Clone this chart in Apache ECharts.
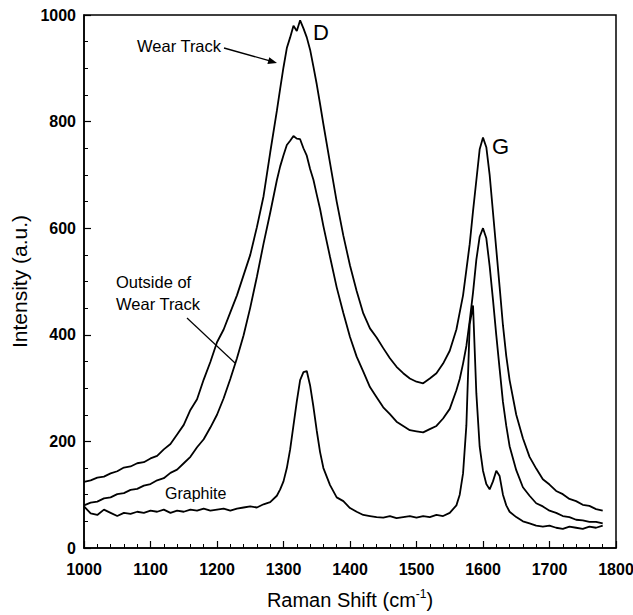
<!DOCTYPE html>
<html>
<head>
<meta charset="utf-8">
<script src="https://cdn.jsdelivr.net/npm/echarts@6/dist/echarts.min.js"></script>
<style>
html,body{margin:0;padding:0;background:#fff;}
#chart{width:633px;height:615px;}
</style>
</head>
<body>
<div id="chart"></div>
<script>
// Raman shift positions (cm^-1)
var shift = [
  1000,1010,1020,1030,1040,1050,1060,1070,1080,1090,
  1100,1110,1120,1130,1140,1150,1160,1170,1180,1190,
  1200,1210,1220,1230,1240,1250,1260,1270,1280,
  1290,1295,1300,1305,1310,1315,1320,1325,1330,1335,1340,1345,1350,1355,1360,
  1370,1380,1390,1400,1410,1420,1430,1440,1450,1460,1470,1480,1490,1500,1510,1520,1530,1540,1550,
  1560,1565,1570,1575,1580,1585,1590,1595,1600,1605,1610,1615,1620,1625,1630,1635,1640,
  1650,1660,1670,1680,1690,1700,1710,1720,1730,1740,1750,1760,1770,1780
];
// Wear Track intensities
var wearTrack = [
  124,127,132,134,140,144,151,153,159,161,
  168,173,185,195,213,231,259,279,316,349,
  386,410,442,474,512,550,602,660,742,
  820,862,902,938,958,980,970,990,975,958,935,903,870,833,795,
  722,650,586,530,482,440,412,395,375,356,340,328,318,312,309,318,328,346,370,
  410,442,474,522,570,632,690,748,770,752,700,630,560,490,418,360,315,
  250,206,171,149,129,119,107,101,92,88,81,79,73,70
];
// Outside of Wear Track intensities
var outsideTrack = [
  80,85,87,93,95,101,103,109,111,117,
  120,127,131,141,147,159,171,189,204,226,
  250,281,317,356,399,451,509,571,629,
  690,716,737,756,764,773,768,767,750,736,711,691,663,636,604,
  546,489,441,396,359,331,302,283,264,251,237,229,221,219,217,223,229,243,261,
  296,317,346,379,426,479,541,584,600,581,529,466,399,336,274,229,191,
  146,114,98,84,78,70,66,60,58,53,52,49,49,46
];
// Graphite intensities
var graphite = [
  78,65,62,72,66,60,66,64,68,66,
  70,68,72,66,70,68,72,70,74,70,
  72,74,70,74,76,78,76,82,86,
  98,110,125,150,185,230,275,315,330,332,305,265,220,180,150,
  118,95,88,75,68,62,60,58,57,60,56,58,60,57,60,58,62,60,66,
  80,100,140,230,420,455,290,190,145,120,110,125,145,135,100,80,68,
  58,50,46,42,40,42,38,36,40,38,36,40,38,42
];
var xTicks = [1000,1100,1200,1300,1400,1500,1600,1700,1800];
var yTicks = [0,200,400,600,800,1000];

function pairs(v){ return shift.map(function(x,i){ return [x, v[i]]; }); }

var FONT = "Arial, 'Liberation Sans', sans-serif";
var chart = echarts.init(document.getElementById('chart'), null, {renderer:'svg'});
var lineStyle = {color:'#000', width:1.8};
function ser(name, v){
  return {name:name, type:'line', data:pairs(v), showSymbol:false, symbol:'none',
    lineStyle:lineStyle, itemStyle:{color:'#000'}, animation:false, z:3};
}
chart.setOption({
  animation:false,
  backgroundColor:'#fff',
  grid:{left:84, top:15, right:17, bottom:67, show:true, borderColor:'#000', borderWidth:1.5,
        backgroundColor:'transparent', containLabel:false, outerBoundsMode:'none'},
  xAxis:{
    type:'value', min:xTicks[0], max:xTicks[xTicks.length-1], interval:100,
    axisLine:{show:true, lineStyle:{color:'#000', width:1.5}},
    axisTick:{show:true, inside:true, length:7, lineStyle:{color:'#000', width:1.2}},
    minorTick:{show:true, splitNumber:5, length:4, lineStyle:{color:'#000', width:1}},
    splitLine:{show:false},
    axisLabel:{color:'#000', fontFamily:FONT, fontSize:16, fontWeight:'bold', margin:13,
      formatter:function(v){ return String(v); }},
    name:'{n|Raman Shift (cm}{s|-1}{n|)}', nameLocation:'middle', nameGap:40,
    nameTextStyle:{rich:{
      n:{fontFamily:FONT, fontSize:20, color:'#000', lineHeight:22, verticalAlign:'bottom'},
      s:{fontFamily:FONT, fontSize:12, color:'#000', lineHeight:22, verticalAlign:'top'}
    }}
  },
  yAxis:{
    type:'value', min:yTicks[0], max:yTicks[yTicks.length-1], interval:200,
    axisLine:{show:true, lineStyle:{color:'#000', width:1.5}},
    axisTick:{show:true, inside:true, length:7, lineStyle:{color:'#000', width:1.2}},
    minorTick:{show:true, splitNumber:4, length:4, lineStyle:{color:'#000', width:1}},
    splitLine:{show:false},
    axisLabel:{color:'#000', fontFamily:FONT, fontSize:16, fontWeight:'bold', margin:8,
      formatter:function(v){ return String(v); }},
    name:'Intensity (a.u.)', nameLocation:'middle', nameGap:54, nameRotate:90,
    nameTextStyle:{fontFamily:FONT, fontSize:21, color:'#000'}
  },
  series:[
    ser('Wear Track', wearTrack),
    ser('Outside of Wear Track', outsideTrack),
    ser('Graphite', graphite)
  ],
  graphic:[
    {type:'text', left:313, top:21, style:{text:'D', fontFamily:FONT, fontSize:22, fill:'#000'}},
    {type:'text', left:492, top:135, style:{text:'G', fontFamily:FONT, fontSize:22, fill:'#000'}},
    {type:'text', left:137, top:37, style:{text:'Wear Track', fontFamily:FONT, fontSize:16.5, fill:'#000'}},
    {type:'line', shape:{x1:224, y1:48, x2:269, y2:60.6}, style:{stroke:'#000', lineWidth:1.3}},
    {type:'polygon', shape:{points:[[277,63],[267.4,64.0],[269.3,57.2]]}, style:{fill:'#000'}},
    {type:'text', left:116, top:271, style:{text:'Outside of\nWear Track', fontFamily:FONT, fontSize:16.5, lineHeight:22, fill:'#000'}},
    {type:'line', shape:{x1:187, y1:318, x2:235, y2:363}, style:{stroke:'#000', lineWidth:1.2}},
    {type:'text', left:165, top:485, style:{text:'Graphite', fontFamily:FONT, fontSize:16, fill:'#000'}}
  ]
});
</script>
</body>
</html>
